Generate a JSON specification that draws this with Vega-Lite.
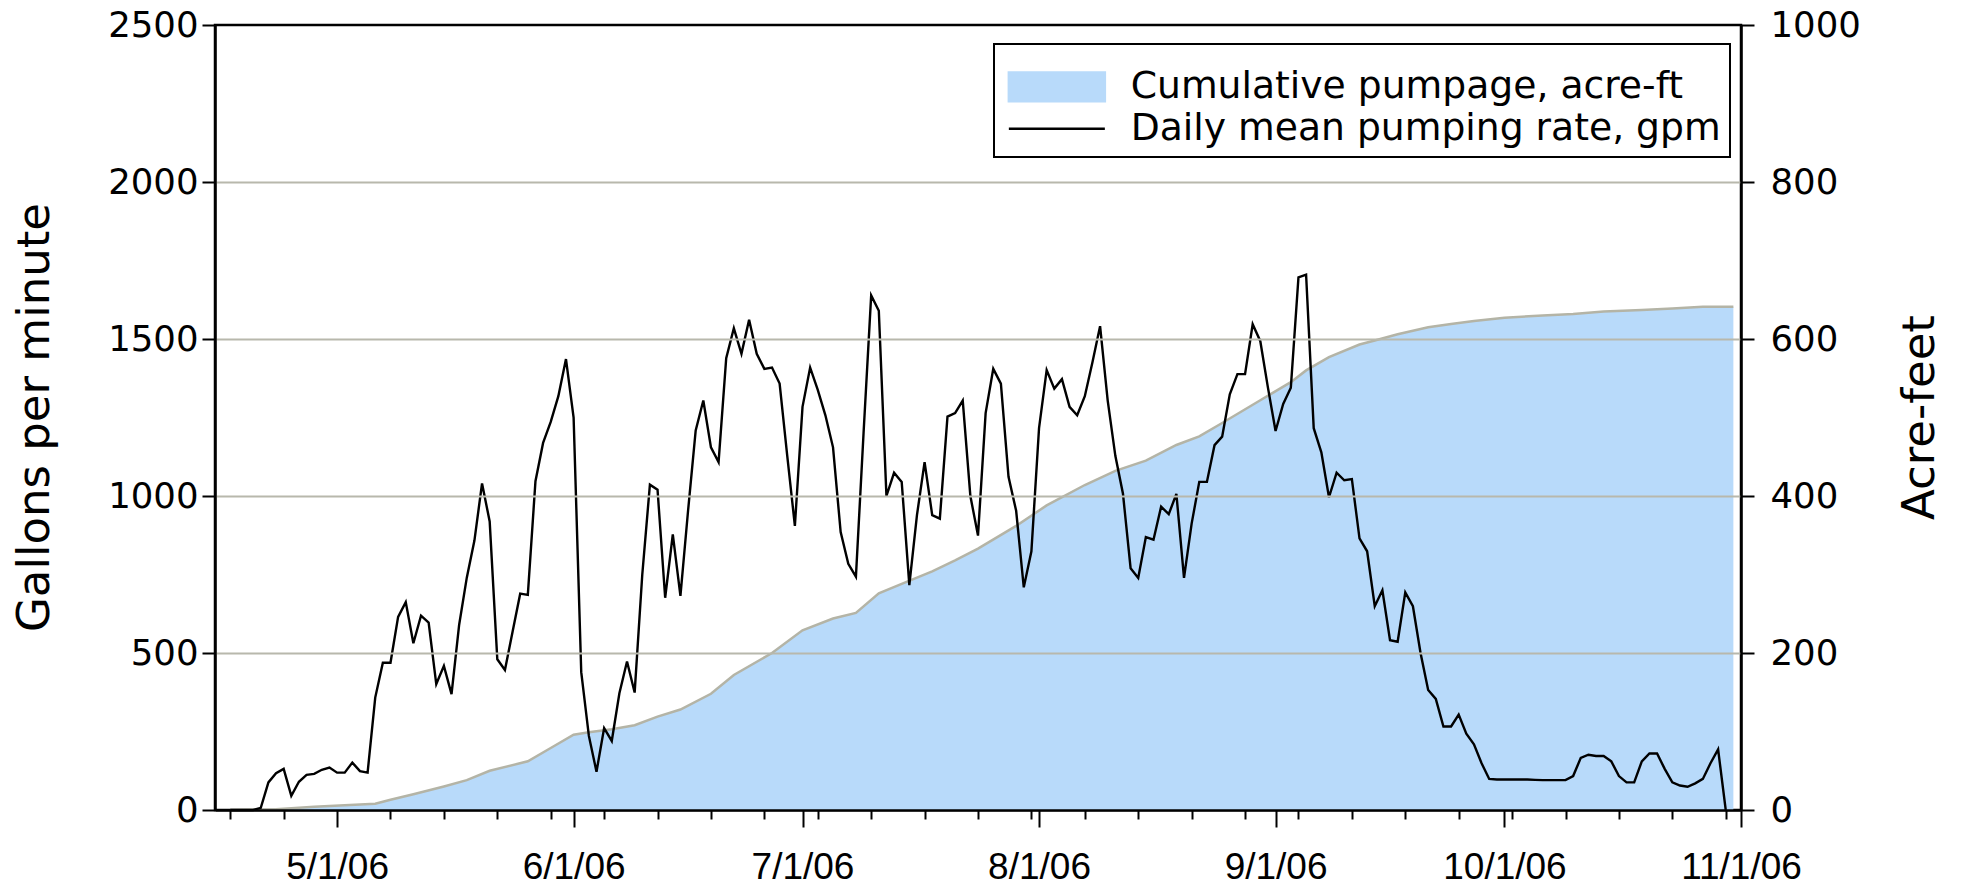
{
  "$schema": "https://vega.github.io/schema/vega-lite/v6.json",
  "width": 1526,
  "height": 785,
  "autosize": {"type": "none"},
  "padding": {"left": 215, "top": 25, "right": 224, "bottom": 80},
  "background": "white",
  "config": {"view": {"stroke": "black", "strokeWidth": 2.5}, "font": "DejaVu Sans"},
  "datasets": {
    "rate": [
      {"date": "2006-04-17", "gpm": 0}, {"date": "2006-04-18", "gpm": 0}, {"date": "2006-04-19", "gpm": 0}, {"date": "2006-04-20", "gpm": 0},
      {"date": "2006-04-21", "gpm": 7}, {"date": "2006-04-22", "gpm": 88}, {"date": "2006-04-23", "gpm": 117}, {"date": "2006-04-24", "gpm": 131},
      {"date": "2006-04-25", "gpm": 45}, {"date": "2006-04-26", "gpm": 90}, {"date": "2006-04-27", "gpm": 112}, {"date": "2006-04-28", "gpm": 115},
      {"date": "2006-04-29", "gpm": 128}, {"date": "2006-04-30", "gpm": 135},
      {"date": "2006-05-01", "gpm": 119}, {"date": "2006-05-02", "gpm": 119}, {"date": "2006-05-03", "gpm": 151}, {"date": "2006-05-04", "gpm": 124},
      {"date": "2006-05-05", "gpm": 119}, {"date": "2006-05-06", "gpm": 358}, {"date": "2006-05-07", "gpm": 469}, {"date": "2006-05-08", "gpm": 469},
      {"date": "2006-05-09", "gpm": 615}, {"date": "2006-05-10", "gpm": 662}, {"date": "2006-05-11", "gpm": 531}, {"date": "2006-05-12", "gpm": 619},
      {"date": "2006-05-13", "gpm": 597}, {"date": "2006-05-14", "gpm": 401}, {"date": "2006-05-15", "gpm": 459}, {"date": "2006-05-16", "gpm": 369},
      {"date": "2006-05-17", "gpm": 590}, {"date": "2006-05-18", "gpm": 740}, {"date": "2006-05-19", "gpm": 858}, {"date": "2006-05-20", "gpm": 1040},
      {"date": "2006-05-21", "gpm": 919}, {"date": "2006-05-22", "gpm": 480}, {"date": "2006-05-23", "gpm": 446}, {"date": "2006-05-24", "gpm": 568},
      {"date": "2006-05-25", "gpm": 689}, {"date": "2006-05-26", "gpm": 685}, {"date": "2006-05-27", "gpm": 1047}, {"date": "2006-05-28", "gpm": 1169},
      {"date": "2006-05-29", "gpm": 1236}, {"date": "2006-05-30", "gpm": 1318}, {"date": "2006-05-31", "gpm": 1436},
      {"date": "2006-06-01", "gpm": 1250}, {"date": "2006-06-02", "gpm": 439}, {"date": "2006-06-03", "gpm": 236}, {"date": "2006-06-04", "gpm": 122},
      {"date": "2006-06-05", "gpm": 261}, {"date": "2006-06-06", "gpm": 220}, {"date": "2006-06-07", "gpm": 372}, {"date": "2006-06-08", "gpm": 473},
      {"date": "2006-06-09", "gpm": 374}, {"date": "2006-06-10", "gpm": 750}, {"date": "2006-06-11", "gpm": 1036}, {"date": "2006-06-12", "gpm": 1020},
      {"date": "2006-06-13", "gpm": 676}, {"date": "2006-06-14", "gpm": 878}, {"date": "2006-06-15", "gpm": 682}, {"date": "2006-06-16", "gpm": 953},
      {"date": "2006-06-17", "gpm": 1209}, {"date": "2006-06-18", "gpm": 1304}, {"date": "2006-06-19", "gpm": 1155}, {"date": "2006-06-20", "gpm": 1108},
      {"date": "2006-06-21", "gpm": 1439}, {"date": "2006-06-22", "gpm": 1534}, {"date": "2006-06-23", "gpm": 1453}, {"date": "2006-06-24", "gpm": 1561},
      {"date": "2006-06-25", "gpm": 1453}, {"date": "2006-06-26", "gpm": 1405}, {"date": "2006-06-27", "gpm": 1409}, {"date": "2006-06-28", "gpm": 1358},
      {"date": "2006-06-29", "gpm": 1128}, {"date": "2006-06-30", "gpm": 905},
      {"date": "2006-07-01", "gpm": 1284}, {"date": "2006-07-02", "gpm": 1409}, {"date": "2006-07-03", "gpm": 1338}, {"date": "2006-07-04", "gpm": 1257},
      {"date": "2006-07-05", "gpm": 1155}, {"date": "2006-07-06", "gpm": 885}, {"date": "2006-07-07", "gpm": 784}, {"date": "2006-07-08", "gpm": 743},
      {"date": "2006-07-09", "gpm": 1200}, {"date": "2006-07-10", "gpm": 1639}, {"date": "2006-07-11", "gpm": 1590}, {"date": "2006-07-12", "gpm": 1000},
      {"date": "2006-07-13", "gpm": 1074}, {"date": "2006-07-14", "gpm": 1045}, {"date": "2006-07-15", "gpm": 716}, {"date": "2006-07-16", "gpm": 939},
      {"date": "2006-07-17", "gpm": 1108}, {"date": "2006-07-18", "gpm": 939}, {"date": "2006-07-19", "gpm": 928}, {"date": "2006-07-20", "gpm": 1253},
      {"date": "2006-07-21", "gpm": 1264}, {"date": "2006-07-22", "gpm": 1304}, {"date": "2006-07-23", "gpm": 1000}, {"date": "2006-07-24", "gpm": 874},
      {"date": "2006-07-25", "gpm": 1264}, {"date": "2006-07-26", "gpm": 1405}, {"date": "2006-07-27", "gpm": 1358}, {"date": "2006-07-28", "gpm": 1061},
      {"date": "2006-07-29", "gpm": 953}, {"date": "2006-07-30", "gpm": 709}, {"date": "2006-07-31", "gpm": 824},
      {"date": "2006-08-01", "gpm": 1216}, {"date": "2006-08-02", "gpm": 1401}, {"date": "2006-08-03", "gpm": 1342}, {"date": "2006-08-04", "gpm": 1372},
      {"date": "2006-08-05", "gpm": 1284}, {"date": "2006-08-06", "gpm": 1257}, {"date": "2006-08-07", "gpm": 1318}, {"date": "2006-08-08", "gpm": 1426},
      {"date": "2006-08-09", "gpm": 1541}, {"date": "2006-08-10", "gpm": 1304}, {"date": "2006-08-11", "gpm": 1128}, {"date": "2006-08-12", "gpm": 1007},
      {"date": "2006-08-13", "gpm": 770}, {"date": "2006-08-14", "gpm": 739}, {"date": "2006-08-15", "gpm": 869}, {"date": "2006-08-16", "gpm": 861},
      {"date": "2006-08-17", "gpm": 966}, {"date": "2006-08-18", "gpm": 942}, {"date": "2006-08-19", "gpm": 1007}, {"date": "2006-08-20", "gpm": 739},
      {"date": "2006-08-21", "gpm": 912}, {"date": "2006-08-22", "gpm": 1045}, {"date": "2006-08-23", "gpm": 1045}, {"date": "2006-08-24", "gpm": 1162},
      {"date": "2006-08-25", "gpm": 1189}, {"date": "2006-08-26", "gpm": 1324}, {"date": "2006-08-27", "gpm": 1388}, {"date": "2006-08-28", "gpm": 1388},
      {"date": "2006-08-29", "gpm": 1547}, {"date": "2006-08-30", "gpm": 1493}, {"date": "2006-08-31", "gpm": 1345},
      {"date": "2006-09-01", "gpm": 1207}, {"date": "2006-09-02", "gpm": 1293}, {"date": "2006-09-03", "gpm": 1345}, {"date": "2006-09-04", "gpm": 1696},
      {"date": "2006-09-05", "gpm": 1705}, {"date": "2006-09-06", "gpm": 1216}, {"date": "2006-09-07", "gpm": 1139}, {"date": "2006-09-08", "gpm": 996},
      {"date": "2006-09-09", "gpm": 1074}, {"date": "2006-09-10", "gpm": 1050}, {"date": "2006-09-11", "gpm": 1054}, {"date": "2006-09-12", "gpm": 865},
      {"date": "2006-09-13", "gpm": 824}, {"date": "2006-09-14", "gpm": 649}, {"date": "2006-09-15", "gpm": 700}, {"date": "2006-09-16", "gpm": 541},
      {"date": "2006-09-17", "gpm": 536}, {"date": "2006-09-18", "gpm": 693}, {"date": "2006-09-19", "gpm": 649}, {"date": "2006-09-20", "gpm": 500},
      {"date": "2006-09-21", "gpm": 382}, {"date": "2006-09-22", "gpm": 354}, {"date": "2006-09-23", "gpm": 266}, {"date": "2006-09-24", "gpm": 266},
      {"date": "2006-09-25", "gpm": 304}, {"date": "2006-09-26", "gpm": 243}, {"date": "2006-09-27", "gpm": 209}, {"date": "2006-09-28", "gpm": 149},
      {"date": "2006-09-29", "gpm": 99}, {"date": "2006-09-30", "gpm": 97},
      {"date": "2006-10-01", "gpm": 97}, {"date": "2006-10-02", "gpm": 97}, {"date": "2006-10-03", "gpm": 97}, {"date": "2006-10-04", "gpm": 97},
      {"date": "2006-10-05", "gpm": 96}, {"date": "2006-10-06", "gpm": 95}, {"date": "2006-10-07", "gpm": 95}, {"date": "2006-10-08", "gpm": 95},
      {"date": "2006-10-09", "gpm": 95}, {"date": "2006-10-10", "gpm": 108}, {"date": "2006-10-11", "gpm": 166}, {"date": "2006-10-12", "gpm": 176},
      {"date": "2006-10-13", "gpm": 172}, {"date": "2006-10-14", "gpm": 172}, {"date": "2006-10-15", "gpm": 155}, {"date": "2006-10-16", "gpm": 108},
      {"date": "2006-10-17", "gpm": 88}, {"date": "2006-10-18", "gpm": 88}, {"date": "2006-10-19", "gpm": 155}, {"date": "2006-10-20", "gpm": 180},
      {"date": "2006-10-21", "gpm": 180}, {"date": "2006-10-22", "gpm": 131}, {"date": "2006-10-23", "gpm": 88}, {"date": "2006-10-24", "gpm": 78},
      {"date": "2006-10-25", "gpm": 74}, {"date": "2006-10-26", "gpm": 85}, {"date": "2006-10-27", "gpm": 99}, {"date": "2006-10-28", "gpm": 149},
      {"date": "2006-10-29", "gpm": 193}, {"date": "2006-10-30", "gpm": 0}
    ],
    "cum": [
      {"date": "2006-04-17", "acre": 0}, {"date": "2006-04-23", "acre": 1}, {"date": "2006-04-28", "acre": 4}, {"date": "2006-05-06", "acre": 8},
      {"date": "2006-05-08", "acre": 13}, {"date": "2006-05-11", "acre": 20}, {"date": "2006-05-15", "acre": 30}, {"date": "2006-05-18", "acre": 38},
      {"date": "2006-05-21", "acre": 50}, {"date": "2006-05-26", "acre": 62}, {"date": "2006-05-29", "acre": 79}, {"date": "2006-06-01", "acre": 96},
      {"date": "2006-06-03", "acre": 99}, {"date": "2006-06-06", "acre": 103}, {"date": "2006-06-09", "acre": 108}, {"date": "2006-06-12", "acre": 119},
      {"date": "2006-06-15", "acre": 128}, {"date": "2006-06-19", "acre": 148}, {"date": "2006-06-22", "acre": 172}, {"date": "2006-06-27", "acre": 200},
      {"date": "2006-07-01", "acre": 229}, {"date": "2006-07-05", "acre": 244}, {"date": "2006-07-08", "acre": 251}, {"date": "2006-07-11", "acre": 276},
      {"date": "2006-07-14", "acre": 288}, {"date": "2006-07-18", "acre": 304}, {"date": "2006-07-21", "acre": 318}, {"date": "2006-07-24", "acre": 333},
      {"date": "2006-07-29", "acre": 362}, {"date": "2006-08-02", "acre": 388}, {"date": "2006-08-07", "acre": 414}, {"date": "2006-08-11", "acre": 432},
      {"date": "2006-08-15", "acre": 445}, {"date": "2006-08-19", "acre": 465}, {"date": "2006-08-22", "acre": 476}, {"date": "2006-08-25", "acre": 493},
      {"date": "2006-08-30", "acre": 522}, {"date": "2006-09-03", "acre": 545}, {"date": "2006-09-05", "acre": 560}, {"date": "2006-09-08", "acre": 577},
      {"date": "2006-09-12", "acre": 593}, {"date": "2006-09-14", "acre": 598}, {"date": "2006-09-17", "acre": 606}, {"date": "2006-09-21", "acre": 615},
      {"date": "2006-09-24", "acre": 619}, {"date": "2006-09-27", "acre": 623}, {"date": "2006-10-01", "acre": 627}, {"date": "2006-10-06", "acre": 630},
      {"date": "2006-10-10", "acre": 632}, {"date": "2006-10-14", "acre": 635}, {"date": "2006-10-19", "acre": 637}, {"date": "2006-10-23", "acre": 639},
      {"date": "2006-10-27", "acre": 641}, {"date": "2006-10-31", "acre": 641}
    ]
  },
  "layer": [
    {
      "data": {"name": "cum", "format": {"parse": {"date": "date:'%Y-%m-%d'"}}},
      "encoding": {
        "x": {
          "field": "date", "type": "temporal",
          "scale": {"domain": [{"year": 2006, "month": 4, "date": 15}, {"year": 2006, "month": 11, "date": 1}]},
          "axis": {
            "orient": "bottom", "title": null, "grid": false,
            "values": [
              {"year": 2006, "month": 4, "date": 17}, {"year": 2006, "month": 4, "date": 24}, {"year": 2006, "month": 5, "date": 1},
              {"year": 2006, "month": 5, "date": 8}, {"year": 2006, "month": 5, "date": 15}, {"year": 2006, "month": 5, "date": 22},
              {"year": 2006, "month": 5, "date": 29}, {"year": 2006, "month": 6, "date": 1}, {"year": 2006, "month": 6, "date": 5},
              {"year": 2006, "month": 6, "date": 12}, {"year": 2006, "month": 6, "date": 19}, {"year": 2006, "month": 6, "date": 26},
              {"year": 2006, "month": 7, "date": 1}, {"year": 2006, "month": 7, "date": 3}, {"year": 2006, "month": 7, "date": 10},
              {"year": 2006, "month": 7, "date": 17}, {"year": 2006, "month": 7, "date": 24}, {"year": 2006, "month": 7, "date": 31},
              {"year": 2006, "month": 8, "date": 1}, {"year": 2006, "month": 8, "date": 7}, {"year": 2006, "month": 8, "date": 14},
              {"year": 2006, "month": 8, "date": 21}, {"year": 2006, "month": 8, "date": 28}, {"year": 2006, "month": 9, "date": 1},
              {"year": 2006, "month": 9, "date": 4}, {"year": 2006, "month": 9, "date": 11}, {"year": 2006, "month": 9, "date": 18},
              {"year": 2006, "month": 9, "date": 25}, {"year": 2006, "month": 10, "date": 1}, {"year": 2006, "month": 10, "date": 2},
              {"year": 2006, "month": 10, "date": 9}, {"year": 2006, "month": 10, "date": 16}, {"year": 2006, "month": 10, "date": 23},
              {"year": 2006, "month": 10, "date": 30}, {"year": 2006, "month": 11, "date": 1}
            ],
            "labelExpr": "date(datum.value) === 1 ? timeFormat(datum.value, '%-m/%-d/%y') : ''",
            "labelOverlap": false, "labelFlush": false,
            "tickSize": {"condition": {"test": "date(datum.value) === 1", "value": 17}, "value": 9},
            "tickColor": "black", "tickWidth": 2,
            "domainColor": "black", "domainWidth": 2.5,
            "labelFont": "Liberation Sans", "labelFontSize": 37, "labelColor": "black", "labelPadding": 22,
            "zindex": 1
          }
        },
        "y": {
          "field": "acre", "type": "quantitative",
          "scale": {"domain": [0, 1000], "nice": false},
          "axis": {
            "orient": "right", "values": [0, 200, 400, 600, 800, 1000], "grid": false, "format": "d",
            "tickSize": 13, "tickColor": "black", "tickWidth": 2,
            "domainColor": "black", "domainWidth": 2.5,
            "labelFont": "DejaVu Sans", "labelFontSize": 35.5, "labelColor": "black", "labelPadding": 16,
            "title": "Acre-feet", "titleFont": "DejaVu Sans", "titleFontSize": 45, "titleFontWeight": "normal",
            "titleColor": "black", "titleAngle": 270, "titleBaseline": "middle", "titleAlign": "center",
            "titleX": 178, "titleY": 392, "zindex": 1
          }
        }
      },
      "layer": [
        {
          "mark": {"type": "area", "opacity": 1},
          "encoding": {
            "color": {
              "datum": "Cumulative pumpage, acre-ft", "type": "nominal",
              "scale": {"domain": ["Cumulative pumpage, acre-ft", "Daily mean pumping rate, gpm"], "range": ["#B8DAFA", "black"]},
              "legend": {
                "title": " ", "titleFontSize": 10, "titlePadding": 5,
                "orient": "none", "legendX": 779, "legendY": 19, "direction": "vertical",
                "labelFont": "DejaVu Sans", "labelFontSize": 37.7, "labelColor": "black", "labelLimit": 0,
                "symbolSize": 1024, "symbolOffset": 35, "labelOffset": 55,
                "padding": 9, "rowPadding": 2,
                "fillColor": "white", "strokeColor": "black",
                "encoding": {
                  "symbols": {
                    "shape": {"condition": {"test": "datum.value === 'Daily mean pumping rate, gpm'", "value": "M-3,0H3"}, "value": "M-3,-0.9H3V0.9H-3Z"},
                    "fill": {"condition": {"test": "datum.value === 'Daily mean pumping rate, gpm'", "value": "transparent"}, "value": "#B8DAFA"},
                    "stroke": {"condition": {"test": "datum.value === 'Daily mean pumping rate, gpm'", "value": "black"}, "value": "#B4B4A6"},
                    "strokeWidth": {"value": 2.5},
                    "opacity": {"value": 1}
                  },
                  "legend": {"strokeWidth": {"value": 2}}
                }
              }
            }
          }
        },
        {
          "mark": {"type": "line", "color": "#B4B4A6", "strokeWidth": 2.5}
        }
      ]
    },
    {
      "data": {"name": "rate", "format": {"parse": {"date": "date:'%Y-%m-%d'"}}},
      "mark": {"type": "line", "strokeWidth": 2.4},
      "encoding": {
        "x": {"field": "date", "type": "temporal"},
        "y": {
          "field": "gpm", "type": "quantitative",
          "scale": {"domain": [0, 2500], "nice": false},
          "axis": {
            "orient": "left", "values": [0, 500, 1000, 1500, 2000, 2500], "grid": true, "format": "d",
            "gridColor": {"condition": {"test": "datum.value === 0 || datum.value === 2500", "value": "transparent"}, "value": "#B8B8AC"},
            "gridWidth": 2,
            "tickSize": 13, "tickColor": "black", "tickWidth": 2,
            "domainColor": "black", "domainWidth": 2.5,
            "labelFont": "DejaVu Sans", "labelFontSize": 35.5, "labelColor": "black", "labelPadding": 4,
            "title": "Gallons per minute", "titleFont": "DejaVu Sans", "titleFontSize": 45, "titleFontWeight": "normal",
            "titleColor": "black", "titleAngle": 270, "titleBaseline": "middle", "titleAlign": "center",
            "titleX": -181, "titleY": 392, "zindex": 1
          }
        },
        "color": {"datum": "Daily mean pumping rate, gpm", "type": "nominal"}
      }
    }
  ],
  "resolve": {"scale": {"y": "independent"}}
}
